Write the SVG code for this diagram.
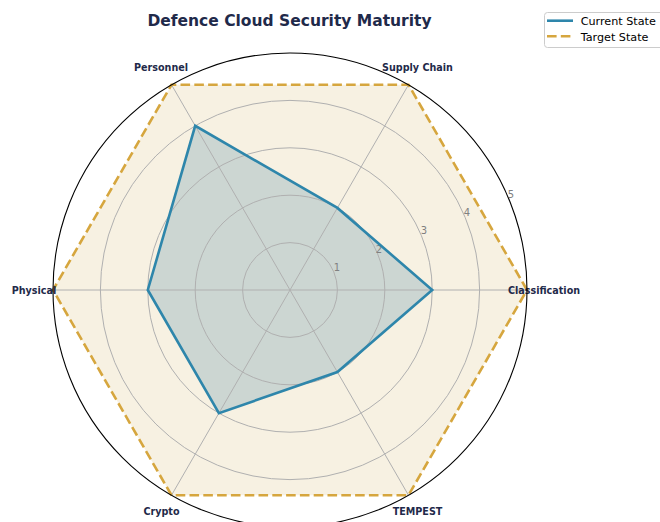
<svg xmlns="http://www.w3.org/2000/svg" width="660" height="522" viewBox="0 0 660 522">
<style>
.grid{fill:none;stroke:#b0b0b0;stroke-width:1}
.axl{font-family:"DejaVu Sans",sans-serif;font-weight:bold;font-size:9.6px;fill:#1f2a4a}
.tick{font-family:"DejaVu Sans",sans-serif;font-size:10px;fill:#808080;text-anchor:middle}
.leg{font-family:"DejaVu Sans",sans-serif;font-size:11.2px;fill:#000}
</style>
<rect width="660" height="522" fill="#ffffff"/>
<text x="289.5" y="26" text-anchor="middle" font-family="DejaVu Sans, sans-serif" font-weight="bold" font-size="15.5px" fill="#1f2a4a">Defence Cloud Security Maturity</text>
<g id="target-fill">
<polygon points="527,290 408.5,84.75 171.5,84.75 53,290 171.5,495.25 408.5,495.25" fill="#f7f1e2"/>
</g>
<g id="current-fill">
<polygon points="432.2,290 337.4,207.9 195.2,125.8 147.8,290 218.9,413.15 337.4,372.1" fill="#ccd6d2"/>
</g>
<g id="grid">
<circle class="grid" cx="290" cy="290" r="47.4"/>
<circle class="grid" cx="290" cy="290" r="94.8"/>
<circle class="grid" cx="290" cy="290" r="142.2"/>
<circle class="grid" cx="290" cy="290" r="189.6"/>
<line class="grid" x1="290" y1="290" x2="527" y2="290"/>
<line class="grid" x1="290" y1="290" x2="408.5" y2="84.75"/>
<line class="grid" x1="290" y1="290" x2="171.5" y2="84.75"/>
<line class="grid" x1="290" y1="290" x2="53" y2="290"/>
<line class="grid" x1="290" y1="290" x2="171.5" y2="495.25"/>
<line class="grid" x1="290" y1="290" x2="408.5" y2="495.25"/>
</g>
<g id="ticks">
<text class="tick" x="337" y="271">1</text>
<text class="tick" x="379" y="253">2</text>
<text class="tick" x="424" y="234">3</text>
<text class="tick" x="467" y="216">4</text>
<text class="tick" x="511" y="198">5</text>
</g>
<g id="connectors">
<polygon id="current-line" points="432.2,290 337.4,207.9 195.2,125.8 147.8,290 218.9,413.15 337.4,372.1" fill="none" stroke="#2e86ab" stroke-width="2.6" stroke-linejoin="miter"/>
<polygon id="target-line" points="527,290 408.5,84.75 171.5,84.75 53,290 171.5,495.25 408.5,495.25" fill="none" stroke="#d6a63e" stroke-width="2.6" stroke-dasharray="9.6 4.2"/>
</g>
<g id="labels">
<text class="axl" x="508" y="294">Classification</text>
<text class="axl" x="417.5" y="71" text-anchor="middle">Supply Chain</text>
<text class="axl" x="161" y="71" text-anchor="middle">Personnel</text>
<text class="axl" x="11.7" y="294">Physical</text>
<text class="axl" x="161.5" y="515" text-anchor="middle">Crypto</text>
<text class="axl" x="417.5" y="515" text-anchor="middle">TEMPEST</text>
</g>
<circle id="spine" cx="290" cy="290" r="237" fill="none" stroke="#000" stroke-width="1.1"/>
<g id="legend">
<rect x="544.5" y="12.5" width="130" height="35" rx="3" fill="#ffffff" fill-opacity="0.8" stroke="#cccccc" stroke-width="1"/>
<line x1="547" y1="20.7" x2="573" y2="20.7" stroke="#2e86ab" stroke-width="2.6"/>
<text class="leg" x="580.7" y="25">Current State</text>
<line x1="547" y1="36.2" x2="573" y2="36.2" stroke="#d6a63e" stroke-width="2.6" stroke-dasharray="9.6 4.2"/>
<text class="leg" x="580.7" y="40.5">Target State</text>
</g>
</svg>
